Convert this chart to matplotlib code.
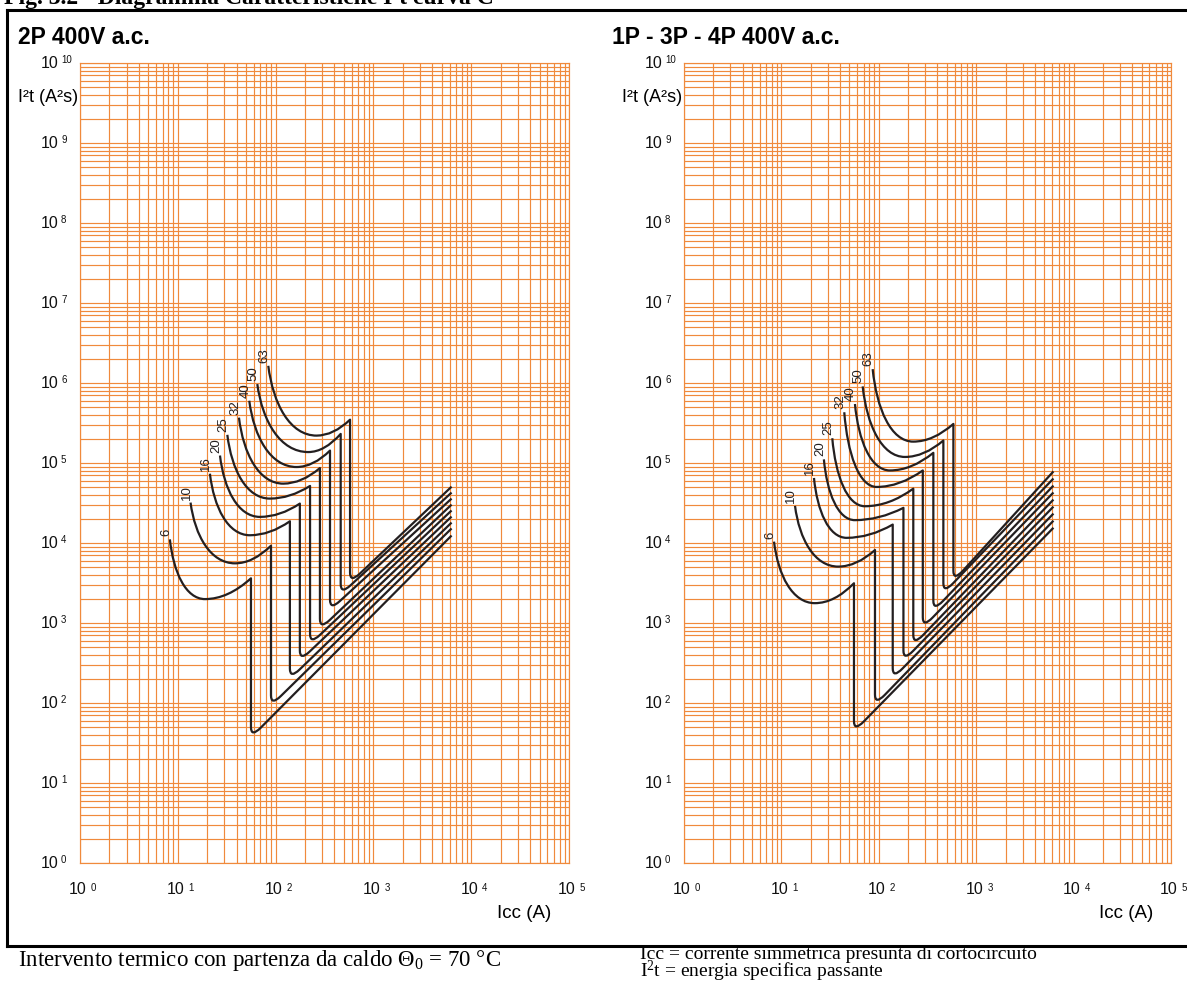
import matplotlib
matplotlib.use("Agg")
import numpy as np
import matplotlib.pyplot as plt
from matplotlib.path import Path
from matplotlib.patches import PathPatch
from matplotlib.ticker import LogLocator, NullFormatter
from matplotlib.lines import Line2D

W, H = 1187, 985
plt.rcParams['font.family'] = ['Liberation Sans', 'DejaVu Sans']
plt.rcParams['mathtext.fontset'] = 'custom'
plt.rcParams['mathtext.rm'] = 'Liberation Serif'
plt.rcParams['mathtext.it'] = 'Liberation Serif:italic'

ORANGE = '#F08A3C'
INK = '#231F20'

# rated currents (A)
ratings = [6, 10, 16, 20, 25, 32, 40, 50, 63]

# ---- 2P 400V a.c. ----   I in A, I2t in A2s
p2_top_i = [8.3, 13.5, 21.3, 27.0, 32.1, 42.2, 53.8, 65.0, 84.2]
p2_top_e = [1.11e4, 3.2e4, 7.35e4, 1.24e5, 2.25e5, 3.69e5, 6.0e5, 9.69e5, 1.64e6]
p2_min_i = [19.0, 38.5, 54.7, 69.2, 87.6, 120, 164, 216, 263]
p2_min_e = [1990, 5570, 1.25e4, 2.12e4, 3.59e4, 5.52e4, 8.91e4, 1.37e5, 2.2e5]
p2_trip_i = [56.0, 89.7, 140, 177, 225, 284, 360, 463, 577]
p2_peak_e = [3620, 9250, 1.87e4, 3.11e4, 5.17e4, 8.65e4, 1.43e5, 2.31e5, 3.48e5]
p2_low_e = [37, 92.5, 200, 336, 542, 834, 1450, 2280, 3170]
p2_end_i = 6300
p2_end_e = [1.24e4, 1.52e4, 1.8e4, 2.14e4, 2.55e4, 3.02e4, 3.59e4, 4.27e4, 5.06e4]

# ---- 1P - 3P - 4P 400V a.c. ----
p4_top_i = [8.4, 13.8, 21.6, 27.3, 33.3, 44.2, 56.9, 68.3, 86.5]
p4_top_e = [1.04e4, 2.91e4, 6.5e4, 1.11e5, 2.04e5, 4.31e5, 5.46e5, 9.07e5, 1.49e6]
p4_min_i = [22.1, 38.3, 46.8, 56.9, 72.1, 95.1, 130, 186, 226]
p4_min_e = [1770, 5070, 1.16e4, 1.93e4, 2.88e4, 5.02e4, 8.07e4, 1.19e5, 1.85e5]
p4_trip_i = [55.6, 91.4, 139, 179, 226, 283, 363, 460, 583]
p4_peak_e = [3140, 8170, 1.7e4, 2.75e4, 4.78e4, 8.07e4, 1.34e5, 1.91e5, 3.08e5]
p4_low_e = [44, 94.4, 202, 336, 527, 873, 1410, 2340, 3330]
p4_end_i = 6210
p4_end_e = [1.55e4, 1.9e4, 2.33e4, 2.85e4, 3.49e4, 4.28e4, 5.22e4, 6.4e4, 7.85e4]

fig = plt.figure(figsize=(W / 100, H / 100), dpi=100)


def px_axes(x0, x1, y0, y1):
    return fig.add_axes([x0 / W, 1 - y1 / H, (x1 - x0) / W, (y1 - y0) / H])


def curve(ax, ti, te, mi, me, pi, pe, le, ei, ee):
    lx0, ly0 = np.log10(ti), np.log10(te)
    lx1, ly1 = np.log10(mi), np.log10(me)
    lx2, ly2 = np.log10(pi), np.log10(pe)
    lyc = np.log10(le)
    lx3, ly3 = np.log10(ei), np.log10(ee)
    f = 0.1 / (lx3 - lx2)
    verts = [
        (lx0, ly0),
        (lx0 + 0.1 * (lx1 - lx0), ly0 + 0.55 * (ly1 - ly0)),
        (lx1 - 0.55 * (lx1 - lx0), ly1),
        (lx1, ly1),
        (lx1 + 0.5 * (lx2 - lx1), ly1),
        (lx2, ly2),
        (lx2, lyc + 0.13),
        (lx2, lyc),
        (lx2 + f * (lx3 - lx2), lyc + f * (ly3 - lyc)),
        (lx3, ly3),
    ]
    codes = [Path.MOVETO, Path.CURVE4, Path.CURVE4, Path.CURVE4,
             Path.CURVE3, Path.CURVE3, Path.LINETO, Path.CURVE3, Path.CURVE3,
             Path.LINETO]
    v = 10 ** np.array(verts)
    ax.add_patch(PathPatch(Path(v, codes), fill=False, ec=INK, lw=1.6,
                           capstyle='butt', joinstyle='round', zorder=3))


def panel(x0, x1, title, tx, data):
    ax = px_axes(x0, x1, 63, 863)
    ax.set_xscale('log')
    ax.set_yscale('log')
    ax.set_xlim(1, 1e5)
    ax.set_ylim(1, 1e10)
    for axis in (ax.xaxis, ax.yaxis):
        axis.set_major_locator(LogLocator(base=10, numticks=30))
        axis.set_minor_locator(LogLocator(base=10, subs=np.arange(2, 10), numticks=30))
        axis.set_major_formatter(NullFormatter())
        axis.set_minor_formatter(NullFormatter())
    ax.tick_params(which='both', length=0)
    ax.grid(which='both', color=ORANGE, lw=0.85)
    for s in ax.spines.values():
        s.set_color(ORANGE)
        s.set_linewidth(0.85)

    for k in range(11):
        ax.annotate('10', xy=(0, 10.0 ** k), xycoords=('axes fraction', 'data'),
                    xytext=(-22, -1), textcoords='offset pixels', ha='right', va='center',
                    fontsize=11.5, color='#111111')
        ax.annotate(str(k), xy=(0, 10.0 ** k), xycoords=('axes fraction', 'data'),
                    xytext=(-19, 3), textcoords='offset pixels', ha='left', va='center',
                    fontsize=7, color='#111111')
    for k in range(6):
        ax.annotate('10', xy=(10.0 ** k, 0), xycoords=('data', 'axes fraction'),
                    xytext=(-2, -27), textcoords='offset pixels', ha='center', va='center',
                    fontsize=11.5, color='#111111')
        ax.annotate(str(k), xy=(10.0 ** k, 0), xycoords=('data', 'axes fraction'),
                    xytext=(11, -25), textcoords='offset pixels', ha='left', va='center',
                    fontsize=7, color='#111111')
    ax.annotate('I²t (A²s)', xy=(0, 1), xycoords='axes fraction', xytext=(-2, -35),
                textcoords='offset pixels', ha='right', va='center', fontsize=13)
    ax.annotate('Icc (A)', xy=(1, 0), xycoords='axes fraction', xytext=(-18, -51),
                textcoords='offset pixels', ha='right', va='center', fontsize=13.5)

    ti, te, mi, me, pi, pe, le, ei, ee = data
    for n, r in enumerate(ratings):
        curve(ax, ti[n], te[n], mi[n], me[n], pi[n], pe[n], le[n], ei, ee[n])
        ax.annotate(str(r), xy=(ti[n], te[n]), xytext=(-4, 3), textcoords='offset pixels',
                    rotation=90, ha='center', va='bottom', fontsize=9.5, color=INK)

    fig.text(tx / W, 1 - 37 / H, title, fontsize=16.5, fontweight='bold', va='center', ha='left')
    return ax


panel(80, 569, '2P 400V a.c.', 18,
      (p2_top_i, p2_top_e, p2_min_i, p2_min_e, p2_trip_i, p2_peak_e, p2_low_e, p2_end_i, p2_end_e))
panel(684, 1171, '1P - 3P - 4P 400V a.c.', 612,
      (p4_top_i, p4_top_e, p4_min_i, p4_min_e, p4_trip_i, p4_peak_e, p4_low_e, p4_end_i, p4_end_e))

# frame round both diagrams
for xs, ys in [((7, 1190), (10, 10)), ((7, 1190), (946, 946)), ((7, 7), (10, 946))]:
    fig.add_artist(Line2D([x / W for x in xs], [1 - y / H for y in ys], color='black', lw=2.2))

fig.text(4 / W, 1 - 4 / H, 'Fig. 3.2 - Diagramma Caratteristiche I²t curva C',
         fontsize=17, fontweight='bold', family='Liberation Serif', va='baseline', ha='left')

fig.text(18 / W, 1 - 966 / H, r'Intervento termico con partenza da caldo Θ$_0$ = 70 °C',
         fontsize=16.5, family='Liberation Serif', va='baseline')
fig.text(640 / W, 1 - 984.5 / H,
         'Icc = corrente simmetrica presunta di cortocircuito\n'
         r'I$^2$t = energia specifica passante',
         fontsize=14, family='Liberation Serif', va='bottom', ha='left',
         linespacing=0.8)

fig.savefig('out.png', dpi=100)
